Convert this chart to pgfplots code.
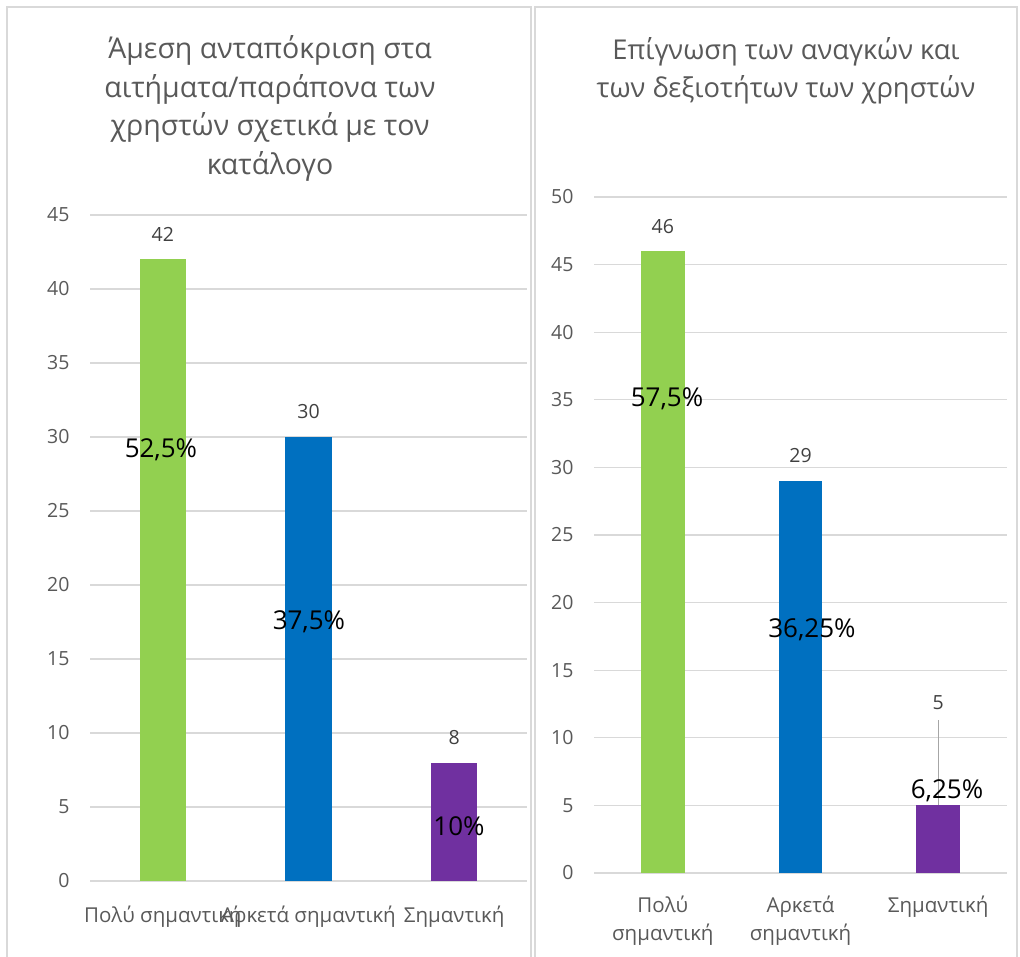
\documentclass[border=0pt]{standalone}
\usepackage{pgfplots}
\pgfplotsset{compat=1.18}
\usepackage{fontspec}
\setmainfont{Open Sans}
\definecolor{cgreen}{HTML}{92D050}
\definecolor{cblue}{HTML}{0070C0}
\definecolor{cpurple}{HTML}{7030A0}
\definecolor{cgrid}{HTML}{D9D9D9}
\definecolor{ctext}{HTML}{595959}
\definecolor{cval}{HTML}{404040}
\definecolor{clead}{HTML}{A6A6A6}
\pgfplotsset{
  panel/.style={
    scale only axis, anchor=south west,
    xmin=-0.5, xmax=2.5, ymin=0,
    axis line style={draw=none},
    major tick length=0pt,
    ymajorgrids, grid style={cgrid, line width=1.3pt},
    xtick={0,1,2}, ytick distance=5,
    ticklabel style={font=\fontsize{19.5}{28}\selectfont, text=ctext},
    xticklabel style={font=\fontsize{20.5}{28}\selectfont},
    /pgf/number format/assume math mode=true,
    yticklabel style={xshift=-17pt},
    clip=false,
  },
  mybar/.style={ybar, bar width=0.316, bar shift=0pt, draw=none, fill=#1},
  vals/.style={nodes near coords,
    every node near coord/.append style={font=\fontsize{19.5}{22}\selectfont, text=cval, anchor=center, yshift=25pt}},
}
\tikzset{pct/.style={font=\fontsize{26}{30}\selectfont, text=black}}
\begin{document}
\begin{tikzpicture}
\useasboundingbox (0,0) rectangle (1020pt,956pt);
% panel borders
\draw[cgrid, line width=1.5pt] (7pt,-10pt) -- (7pt,949pt) -- (531pt,949pt) -- (531pt,-10pt);
\draw[cgrid, line width=1.5pt] (535pt,-10pt) -- (535pt,949pt) -- (1017pt,949pt) -- (1017pt,-10pt);
% titles
\begin{scope}[every node/.style={font=\fontsize{28.5}{39}\selectfont, text=ctext, anchor=base, inner sep=0pt}]
\node at (270pt,897pt) {Άμεση ανταπόκριση στα};
\node at (270pt,858pt) {αιτήματα/παράπονα των};
\node at (270pt,820pt) {χρηστών σχετικά με τον};
\node at (270pt,781pt) {κατάλογο};
\end{scope}
\begin{scope}[every node/.style={font=\fontsize{27.3}{39}\selectfont, text=ctext, anchor=base, inner sep=0pt}]
\node at (786pt,896pt) {Επίγνωση των αναγκών και};
\node at (786pt,858pt) {των δεξιοτήτων των χρηστών};
\end{scope}
% left chart
\begin{axis}[panel, at={(90pt,75pt)}, width=437pt, height=666pt, ymax=45,
  xticklabels={Πολύ σημαντική,Αρκετά σημαντική,Σημαντική},
  xticklabel style={anchor=base, yshift=-41pt}]
\addplot[mybar=cgreen, vals] coordinates {(0,42)};
\addplot[mybar=cblue, vals] coordinates {(1,30)};
\addplot[mybar=cpurple, vals] coordinates {(2,8)};
\node[pct] at (axis cs:-0.013,29.15) {52,5\%};
\node[pct] at (axis cs:1.003,17.5) {37,5\%};
\node[pct] at (axis cs:2.033,3.7) {10\%};
\end{axis}
% right chart
\begin{axis}[panel, at={(594pt,83pt)}, width=413pt, height=676pt, ymax=50,
  xticklabels={{Πολύ\\σημαντική},{Αρκετά\\σημαντική},{Σημαντική}},
  xticklabel style={align=center, anchor=north, yshift=-19pt}]
\addplot[mybar=cgreen, vals] coordinates {(0,46)};
\addplot[mybar=cblue, vals] coordinates {(1,29)};
\addplot[mybar=cpurple] coordinates {(2,5)};
\draw[clead, line width=1.3pt] (axis cs:2,11.3) -- (axis cs:2,5);
\node[font=\fontsize{19.5}{22}\selectfont, text=cval] at (axis cs:2,12.57) {5};
\node[pct] at (axis cs:0.03,35.06) {57,5\%};
\node[pct] at (axis cs:1.083,17.97) {36,25\%};
\node[pct] at (axis cs:2.064,6.07) {6,25\%};
\end{axis}
\end{tikzpicture}
\end{document}
